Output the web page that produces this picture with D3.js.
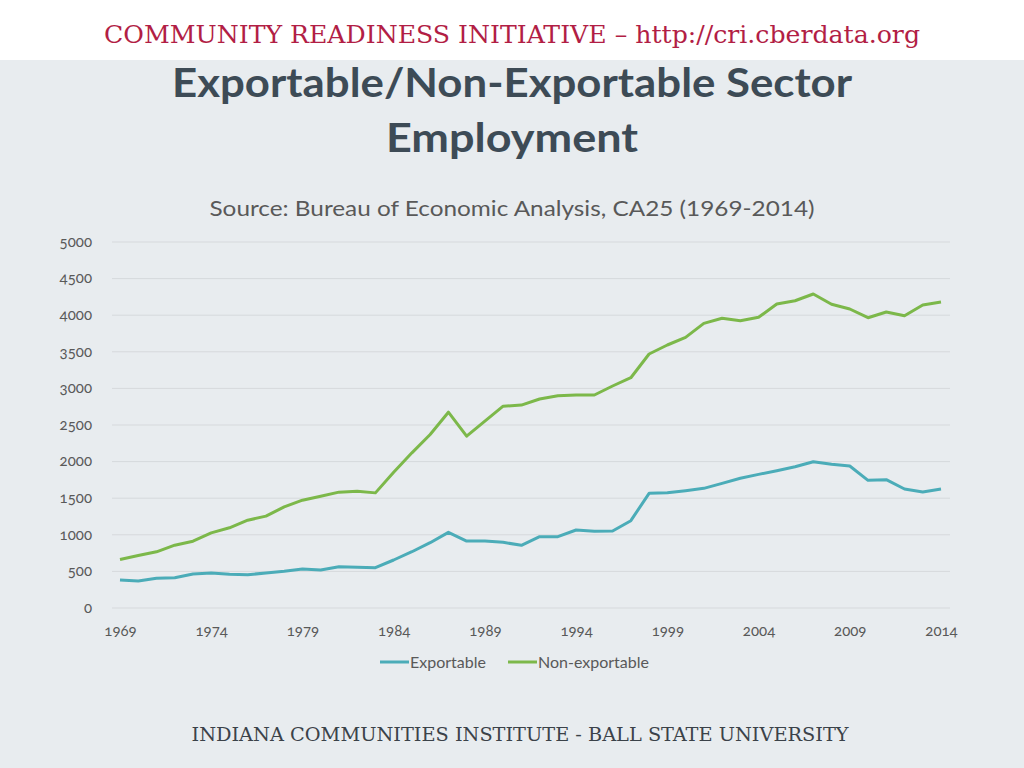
<!DOCTYPE html>
<html><head><meta charset="utf-8">
<script src="https://cdn.jsdelivr.net/npm/d3@7"></script>
<style>
html,body{margin:0;padding:0;background:#e8ecef;}
svg{display:block;}
</style></head>
<body>
<svg id="chart" width="1024" height="768"></svg>
<script>
const years = d3.range(1969, 2015);
const exportable = [376,362,399,407,458,471,453,448,471,494,526,512,558,549,544,649,762,885,1027,908,908,890,850,967,967,1059,1041,1045,1186,1560,1568,1596,1628,1696,1765,1819,1869,1923,1992,1956,1933,1737,1746,1619,1578,1619];
const nonExportable = [656,710,761,851,906,1020,1089,1193,1248,1375,1466,1521,1576,1589,1566,1848,2113,2363,2668,2340,2545,2750,2765,2848,2893,2903,2903,3026,3139,3463,3586,3691,3882,3951,3918,3964,4146,4191,4283,4142,4078,3959,4037,3986,4133,4173];
const yTicks = [0,500,1000,1500,2000,2500,3000,3500,4000,4500,5000];
const xTicks = [1969,1974,1979,1984,1989,1994,1999,2004,2009,2014];
const seriesNames = ["Exportable","Non-exportable"];
const seriesColors = ["#4bacb8","#7cb84a"];

const svg = d3.select("#chart");
svg.append("rect").attr("x",0).attr("y",0).attr("width",1024).attr("height",60).attr("fill","#ffffff");
svg.append("text").attr("x",512).attr("y",43).attr("text-anchor","middle")
  .attr("font-family","DejaVu Serif").style("font-stretch","condensed").attr("font-size",25).attr("fill","#b21e45")
  .attr("textLength",816).attr("lengthAdjust","spacingAndGlyphs")
  .text("COMMUNITY READINESS INITIATIVE – http://cri.cberdata.org");

const tf = "Lato, 'Open Sans', sans-serif";
svg.append("text").attr("x",512).attr("y",97).attr("text-anchor","middle")
  .attr("font-family",tf).attr("font-weight","bold").attr("font-size",41).attr("fill","#3d4b56")
  .attr("textLength",680).attr("lengthAdjust","spacingAndGlyphs")
  .text("Exportable/Non-Exportable Sector");
svg.append("text").attr("x",512).attr("y",152).attr("text-anchor","middle")
  .attr("font-family",tf).attr("font-weight","bold").attr("font-size",41).attr("fill","#3d4b56")
  .attr("textLength",252).attr("lengthAdjust","spacingAndGlyphs")
  .text("Employment");
svg.append("text").attr("x",512).attr("y",216).attr("text-anchor","middle")
  .attr("font-family",tf).attr("font-size",22).attr("fill","#595959")
  .attr("textLength",605).attr("lengthAdjust","spacingAndGlyphs")
  .text("Source: Bureau of Economic Analysis, CA25 (1969-2014)");

const x = d3.scaleLinear().domain([1969,2014]).range([120,941]);
const y = d3.scaleLinear().domain([0,5000]).range([607.5,241.5]);

const grid = svg.append("g").attr("transform","translate(950,0)")
  .call(d3.axisLeft(y).tickValues(yTicks).tickSize(838).tickFormat(""));
grid.select(".domain").remove();
grid.selectAll(".tick line").attr("stroke","#d6d9dc").attr("stroke-width",1);

const yAx = svg.append("g").attr("transform","translate(95,0)")
  .call(d3.axisLeft(y).tickValues(yTicks).tickSize(0).tickFormat(d=>d));
yAx.select(".domain").remove();
yAx.selectAll(".tick text").attr("font-family",tf).attr("font-size",15).attr("fill","#595959")
  .style("font-variant-numeric","oldstyle-nums").attr("dy","0.32em");

const xAx = svg.append("g").attr("transform","translate(0,622)")
  .call(d3.axisBottom(x).tickValues(xTicks).tickSize(0).tickFormat(d=>String(d)));
xAx.select(".domain").remove();
xAx.selectAll(".tick text").attr("font-family",tf).attr("font-size",15).attr("fill","#595959")
  .style("font-variant-numeric","oldstyle-nums");

const line = d3.line().x((d,i)=>x(years[i])).y(d=>y(d));
[exportable, nonExportable].forEach((s,k)=>{
  svg.append("path").datum(s).attr("d",line).attr("fill","none")
    .attr("stroke",seriesColors[k]).attr("stroke-width",3).attr("stroke-linejoin","round");
});

const legX = [380,508];
seriesNames.forEach((n,k)=>{
  svg.append("line").attr("x1",legX[k]).attr("x2",legX[k]+29).attr("y1",662).attr("y2",662)
    .attr("stroke",seriesColors[k]).attr("stroke-width",3);
  svg.append("text").attr("x",legX[k]+30).attr("y",667.5).attr("font-family",tf).attr("font-size",16)
    .attr("fill","#595959").text(n);
});

svg.append("text").attr("x",520).attr("y",741).attr("text-anchor","middle")
  .attr("font-family","DejaVu Serif").style("font-stretch","condensed").attr("font-size",19).attr("fill","#3b4249")
  .attr("textLength",657).attr("lengthAdjust","spacingAndGlyphs")
  .text("INDIANA COMMUNITIES INSTITUTE - BALL STATE UNIVERSITY");
</script>
</body></html>
